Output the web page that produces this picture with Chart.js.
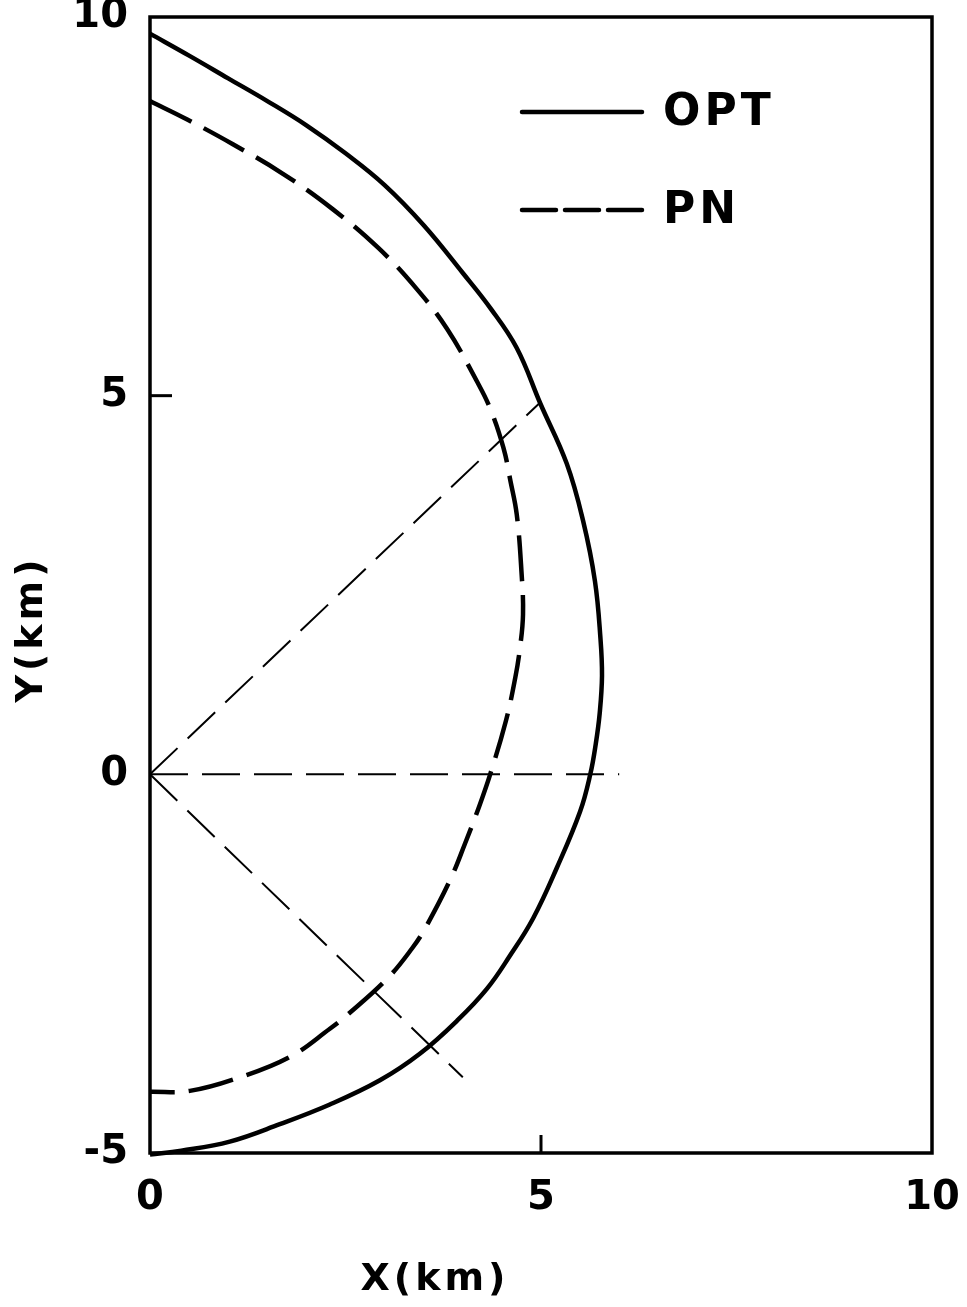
<!DOCTYPE html>
<html>
<head>
<meta charset="utf-8">
<script src="https://cdn.jsdelivr.net/npm/chart.js@4.4.1/dist/chart.umd.min.js"></script>
<style>
  html, body { margin: 0; padding: 0; background: #fff; }
  canvas { display: block; }
</style>
</head>
<body>
<canvas id="chart" width="967" height="1307"></canvas>
<script>
// OPT boundary (solid), read top to bottom
const optX = [0, 0.5, 1.0, 1.5, 2.0, 2.5, 3.0, 3.5, 4.0, 4.35, 4.69, 4.99, 5.33, 5.54, 5.69, 5.76, 5.78, 5.75, 5.7, 5.63, 5.5, 5.2, 4.9, 4.6, 4.31, 3.94, 3.45, 2.94, 2.3, 1.66, 1.02, 0.4, 0];
const optY = [9.78, 9.49, 9.19, 8.89, 8.57, 8.2, 7.78, 7.25, 6.62, 6.16, 5.63, 4.9, 4.1, 3.34, 2.55, 1.8, 1.3, 0.8, 0.4, 0, -0.49, -1.24, -1.9, -2.4, -2.83, -3.24, -3.69, -4.04, -4.36, -4.62, -4.85, -4.97, -5.02];

// PN boundary (dashed)
const pnX = [0, 0.47, 1.06, 1.7, 2.34, 2.92, 3.41, 3.8, 4.18, 4.35, 4.52, 4.61, 4.69, 4.75, 4.77, 4.73, 4.67, 4.55, 4.35, 4.2, 4.03, 3.84, 3.52, 3.35, 3.04, 2.53, 2.3, 1.79, 1.15, 0.51, 0];
const pnY = [8.89, 8.65, 8.32, 7.93, 7.46, 6.95, 6.41, 5.88, 5.19, 4.83, 4.31, 3.87, 3.43, 2.68, 2.11, 1.66, 1.27, 0.7, 0, -0.45, -0.91, -1.39, -2.03, -2.3, -2.69, -3.17, -3.36, -3.73, -4.0, -4.18, -4.19];

// thin rays from the origin
const rayEndX = [5.0, 6, 4];
const rayEndY = [4.92, 0, -4];

const xTickValues = [0, 5, 10];
const yTickValues = [-5, 0, 5, 10];
const innerTicksX = [5];
const innerTicksY = [5];

const seriesNames = ['OPT', 'PN'];
const xTitle = 'X(km)';
const yTitle = 'Y(km)';

const FONT = "'DejaVu Sans', sans-serif";
const toPts = (xs, ys) => xs.map((x, i) => ({ x, y: ys[i] }));

const rays = rayEndX.map((ex, i) => ({
  label: '',
  data: [{ x: 0, y: 0 }, { x: ex, y: rayEndY[i] }],
  showLine: true,
  borderColor: '#000',
  borderWidth: 2,
  borderDash: [38, 14],
  pointRadius: 0,
  clip: false
}));

const decorations = {
  id: 'decorations',
  afterDatasetsDraw(chart) {
    const { ctx, chartArea: a, scales: { x, y } } = chart;
    const line = (x0, y0, x1, y1) => { ctx.beginPath(); ctx.moveTo(x0, y0); ctx.lineTo(x1, y1); ctx.stroke(); };
    ctx.save();
    ctx.strokeStyle = '#000';
    ctx.fillStyle = '#000';

    ctx.lineWidth = 3.5;
    ctx.strokeRect(a.left, a.top, a.right - a.left, a.bottom - a.top);

    ctx.lineWidth = 3;
    innerTicksY.forEach((v) => { const py = y.getPixelForValue(v); line(a.left, py, a.left + 22, py); });
    innerTicksX.forEach((v) => { const px = x.getPixelForValue(v); line(px, a.bottom, px, a.bottom - 18); });

    // legend
    const lx0 = a.left + 372, lx1 = a.left + 492, tx = a.left + 513;
    const ly = [a.top + 95, a.top + 193];
    ctx.lineWidth = 4.5;
    ctx.lineCap = 'round';
    line(lx0, ly[0], lx1, ly[0]);
    ctx.setLineDash([34, 9]);
    line(lx0, ly[1], lx1, ly[1]);
    ctx.setLineDash([]);
    ctx.lineCap = 'butt';
    ctx.font = `bold 44px ${FONT}`;
    ctx.letterSpacing = '4px';
    ctx.textBaseline = 'middle';
    ctx.textAlign = 'left';
    seriesNames.forEach((n, i) => ctx.fillText(n, tx, ly[i] + 2));

    // axis titles
    ctx.font = `bold 38px ${FONT}`;
    ctx.textAlign = 'center';
    ctx.fillText(xTitle, a.left + 285, a.bottom + 127);
    ctx.save();
    ctx.translate(32, a.top + 612);
    ctx.rotate(-Math.PI / 2);
    ctx.fillText(yTitle, 0, 0);
    ctx.restore();

    ctx.restore();
  }
};

new Chart(document.getElementById('chart'), {
  type: 'scatter',
  data: {
    datasets: [
      {
        label: seriesNames[0],
        data: toPts(optX, optY),
        showLine: true,
        borderColor: '#000',
        borderWidth: 4.5,
        pointRadius: 0,
        tension: 0.4,
        clip: false
      },
      {
        label: seriesNames[1],
        data: toPts(pnX, pnY),
        showLine: true,
        borderColor: '#000',
        borderWidth: 4.5,
        borderDash: [46, 14],
        pointRadius: 0,
        tension: 0.4,
        clip: false
      },
      ...rays
    ]
  },
  options: {
    responsive: false,
    animation: false,
    layout: { padding: { left: 0, top: 17, right: 35, bottom: 0 } },
    plugins: { legend: { display: false }, tooltip: { enabled: false } },
    scales: {
      x: {
        type: 'linear',
        min: 0,
        max: 10,
        afterBuildTicks: (s) => { s.ticks = xTickValues.map((v) => ({ value: v })); },
        afterFit: (s) => { s.height = 154; s.paddingLeft = 0; s.paddingRight = 0; },
        grid: { display: false },
        border: { display: false },
        ticks: { color: '#000', padding: 14, font: { family: FONT, size: 40, weight: 'bold' } }
      },
      y: {
        type: 'linear',
        min: -5,
        max: 10,
        afterBuildTicks: (s) => { s.ticks = yTickValues.map((v) => ({ value: v })); },
        afterFit: (s) => { s.width = 150; s.paddingTop = 0; s.paddingBottom = 0; },
        grid: { display: false },
        border: { display: false },
        ticks: { color: '#000', padding: 14, font: { family: FONT, size: 40, weight: 'bold' } }
      }
    }
  },
  plugins: [decorations]
});
</script>
</body>
</html>
